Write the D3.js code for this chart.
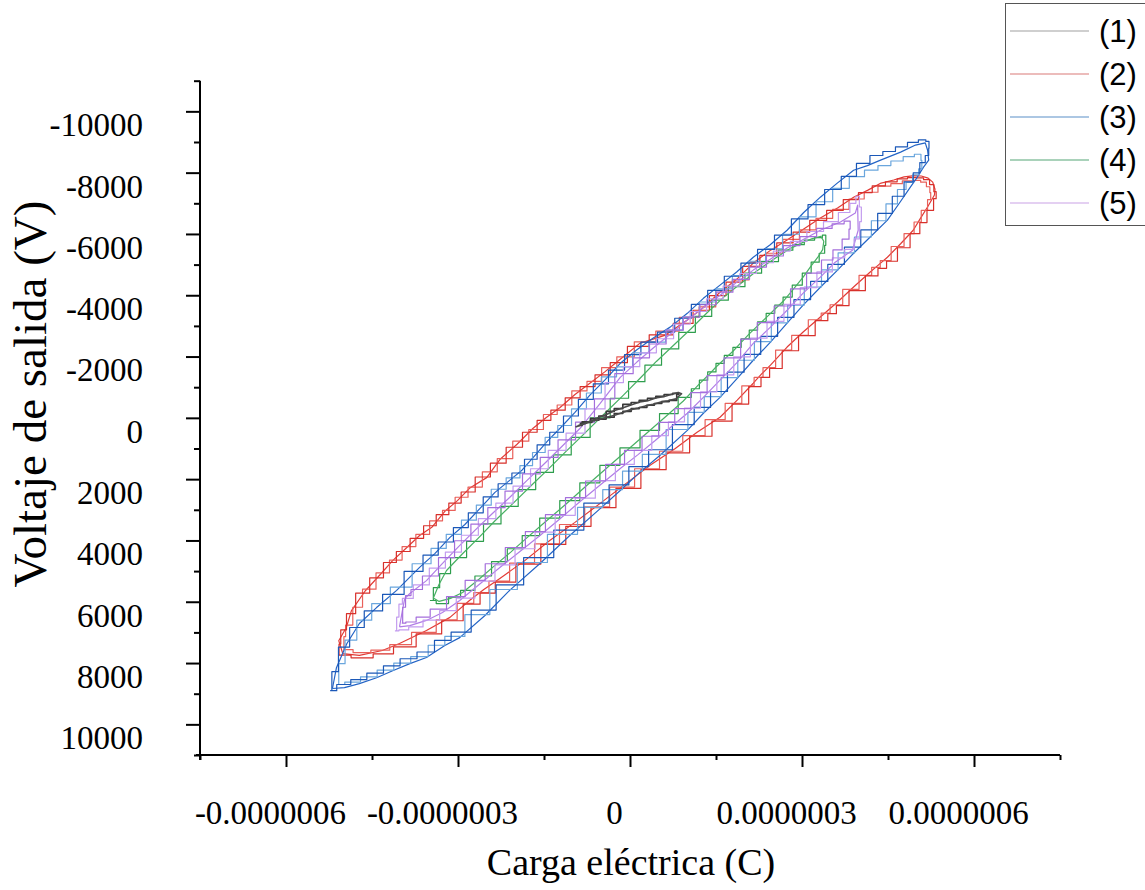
<!DOCTYPE html>
<html>
<head>
<meta charset="utf-8">
<script src="https://cdn.jsdelivr.net/npm/d3@7/dist/d3.min.js"></script>
<style>
  html, body { margin: 0; padding: 0; background: #fff; }
  svg { display: block; }
</style>
</head>
<body>
<svg id="chart" width="1145" height="890"></svg>
<script>
// Hysteresis loops: output voltage (V) versus electric charge.
// Charge values are stored in nC and converted to C when plotted.

const seriesNames = ["(1)", "(2)", "(3)", "(4)", "(5)"];
const legendColors = ["#a0a0a0", "#d97b78", "#5a90c8", "#55a676", "#c9a2e6"];

const xMajorTicks = [-6e-7, -3e-7, 0, 3e-7, 6e-7];
const xMinorTicks = [-7.5e-7, -4.5e-7, -1.5e-7, 1.5e-7, 4.5e-7, 7.5e-7];
const yMajorTicks = [-10000, -8000, -6000, -4000, -2000, 0, 2000, 4000, 6000, 8000, 10000];
const yMinorTicks = [-11000, -9000, -7000, -5000, -3000, -1000, 1000, 3000, 5000, 7000, 9000, 11000];

// (1) — small loop around the origin
const series1CycleA = [[-91,250],[-76,130],[-61,20],[-48,-60],[-35,-210],[-20,-300],[-5,-440],[9,-500],[23,-570],[38,-640],[52,-700],[67,-760],[82,-800],[88,-770],[75,-570],[62,-530],[49,-470],[36,-410],[23,-340],[9,-300],[-5,-210],[-20,-140],[-35,-20],[-48,40],[-61,80],[-72,150],[-82,180],[-91,250]];
const series1CycleB = [[-95,300],[-80,180],[-66,90],[-52,-40],[-40,-120],[-27,-240],[-12,-330],[3,-430],[17,-520],[31,-560],[45,-650],[60,-700],[74,-780],[84,-830],[90,-790],[80,-620],[66,-560],[54,-520],[40,-440],[27,-390],[14,-320],[0,-260],[-14,-170],[-28,-80],[-42,-10],[-56,70],[-68,120],[-80,200],[-95,300]];

// (2)
const series2CycleA = [[-501,7690],[-508,7270],[-495,6850],[-486,6300],[-462,5650],[-436,5120],[-414,4660],[-392,4280],[-367,3840],[-345,3560],[-323,3050],[-301,2700],[-280,2300],[-250,1950],[-227,1360],[-197,860],[-169,340],[-146,-10],[-122,-340],[-96,-760],[-70,-1130],[-44,-1500],[-17,-1910],[17,-2430],[62,-2700],[100,-3190],[128,-3600],[157,-4100],[186,-4520],[215,-5050],[246,-5480],[274,-5800],[303,-6160],[332,-6520],[362,-6850],[390,-7200],[415,-7430],[438,-7660],[460,-7760],[478,-7860],[496,-7900],[508,-7890],[520,-7820],[528,-7690],[532,-7460],[531,-7270],[519,-6880],[506,-6490],[494,-6120],[472,-5680],[449,-5240],[434,-5000],[419,-4760],[390,-4270],[362,-3780],[346,-3520],[332,-3290],[302,-2800],[274,-2310],[245,-1720],[230,-1440],[215,-1130],[187,-580],[157,-20],[117,470],[79,1000],[35,1550],[-9,2170],[-52,2790],[-96,3410],[-140,4000],[-183,4650],[-227,5240],[-255,5600],[-280,5960],[-314,6510],[-355,6940],[-402,7360],[-432,7590],[-472,7750],[-501,7690]];
const series2CycleB = [[-496,7560],[-502,7140],[-490,6760],[-477,6180],[-456,5590],[-430,5060],[-409,4640],[-386,4200],[-361,3800],[-338,3360],[-316,3020],[-294,2590],[-271,2260],[-244,1760],[-219,1330],[-190,760],[-163,380],[-139,-110],[-115,-420],[-88,-880],[-62,-1190],[-37,-1640],[-9,-1990],[24,-2480],[66,-2830],[106,-3280],[135,-3620],[164,-4150],[193,-4500],[222,-5080],[252,-5370],[281,-5820],[310,-6130],[339,-6510],[368,-6800],[396,-7140],[421,-7360],[444,-7560],[466,-7640],[484,-7730],[501,-7750],[513,-7690],[521,-7540],[525,-7350],[524,-7120],[514,-6770],[502,-6390],[489,-6010],[467,-5590],[444,-5130],[429,-4910],[414,-4650],[385,-4190],[357,-3690],[341,-3420],[326,-3200],[296,-2690],[268,-2210],[240,-1640],[224,-1320],[209,-1040],[181,-470],[151,60],[111,580],[73,1090],[30,1660],[-14,2260],[-57,2900],[-101,3480],[-145,4110],[-188,4740],[-232,5330],[-260,5700],[-285,6050],[-318,6590],[-358,7000],[-404,7400],[-434,7580],[-470,7660],[-496,7560]];
const series2CycleC = [[-505,7740],[-510,7380],[-499,6920],[-490,6390],[-467,5720],[-441,5220],[-419,4720],[-396,4360],[-371,3930],[-349,3520],[-327,3160],[-305,2780],[-284,2420],[-256,1930],[-231,1480],[-201,960],[-174,470],[-150,80],[-126,-250],[-100,-650],[-74,-1020],[-48,-1400],[-21,-1800],[12,-2330],[55,-2710],[96,-3080],[124,-3510],[153,-3990],[182,-4430],[211,-4940],[242,-5300],[270,-5710],[299,-6060],[328,-6440],[358,-6770],[386,-7120],[411,-7350],[434,-7570],[457,-7700],[475,-7800],[493,-7840],[506,-7830],[518,-7770],[527,-7610],[533,-7380],[535,-7150],[524,-6770],[512,-6370],[499,-6010],[478,-5550],[455,-5110],[440,-4880],[425,-4630],[396,-4150],[368,-3660],[352,-3400],[338,-3170],[308,-2680],[280,-2190],[251,-1610],[236,-1320],[221,-1020],[193,-450],[163,110],[123,600],[85,1140],[41,1690],[-3,2300],[-46,2930],[-90,3540],[-134,4130],[-177,4770],[-221,5360],[-249,5720],[-274,6080],[-308,6620],[-349,7050],[-397,7470],[-428,7700],[-468,7830],[-505,7740]];

// (3)
const series3CycleA = [[-519,8830],[-512,8150],[-494,7370],[-472,6710],[-442,6190],[-407,5630],[-367,4880],[-340,4420],[-314,3900],[-288,3480],[-262,2960],[-236,2440],[-210,2040],[-188,1700],[-166,1230],[-144,760],[-122,340],[-96,-180],[-70,-740],[-44,-1230],[-17,-1780],[12,-2220],[40,-2600],[70,-2960],[100,-3410],[128,-3900],[157,-4330],[186,-4760],[215,-5240],[244,-5640],[274,-6120],[303,-6700],[332,-7200],[361,-7650],[390,-8080],[414,-8230],[437,-8410],[472,-8670],[498,-8900],[515,-8970],[519,-8740],[521,-8410],[512,-8180],[500,-7820],[489,-7530],[470,-7010],[449,-6450],[419,-5900],[390,-5370],[362,-4820],[332,-4260],[302,-3680],[274,-3090],[245,-2470],[215,-1880],[187,-1290],[157,-670],[128,-150],[100,410],[52,1230],[17,1780],[-17,2370],[-52,2960],[-105,3840],[-157,4750],[-210,5630],[-253,6450],[-297,7170],[-323,7430],[-355,7820],[-384,8020],[-414,8250],[-442,8480],[-472,8670],[-498,8800],[-519,8830]];
const series3CycleB = [[-510,8700],[-506,8020],[-488,7250],[-465,6600],[-436,6060],[-400,5520],[-360,4760],[-334,4260],[-307,3800],[-281,3340],[-255,2850],[-229,2330],[-203,1960],[-181,1560],[-159,1130],[-137,640],[-115,250],[-89,-290],[-63,-810],[-37,-1340],[-10,-1660],[19,-2120],[47,-2470],[77,-2860],[107,-3290],[135,-3780],[164,-4210],[193,-4640],[222,-5110],[251,-5510],[281,-5990],[310,-6560],[339,-7050],[368,-7490],[397,-7870],[421,-8080],[444,-8230],[466,-8380],[487,-8520],[505,-8600],[510,-8400],[508,-8120],[499,-7930],[487,-7680],[476,-7450],[457,-6980],[436,-6430],[406,-5900],[377,-5380],[349,-4830],[319,-4270],[289,-3680],[261,-3100],[232,-2490],[202,-1880],[174,-1310],[144,-690],[115,-180],[87,380],[39,1190],[4,1740],[-30,2340],[-65,2920],[-118,3800],[-170,4720],[-223,5600],[-266,6420],[-310,7130],[-336,7420],[-368,7790],[-397,8000],[-427,8230],[-455,8450],[-485,8620],[-510,8700]];
const series3CycleC = [[-523,8900],[-517,8280],[-500,7480],[-478,6840],[-449,6300],[-414,5760],[-374,5010],[-348,4480],[-321,4050],[-295,3580],[-269,3100],[-243,2580],[-217,2150],[-195,1800],[-173,1350],[-151,880],[-129,470],[-103,-60],[-77,-600],[-51,-1110],[-24,-1560],[5,-2060],[33,-2470],[63,-2800],[93,-3250],[121,-3700],[150,-4160],[179,-4620],[208,-5050],[237,-5500],[267,-5960],[296,-6490],[325,-6960],[354,-7450],[383,-7880],[407,-8300],[430,-8560],[452,-8690],[474,-8840],[494,-8990],[512,-9070],[520,-9020],[523,-8800],[519,-8560],[511,-8330],[500,-7990],[488,-7700],[468,-7230],[447,-6670],[417,-6130],[388,-5570],[360,-5010],[330,-4450],[300,-3860],[272,-3280],[243,-2660],[213,-2070],[185,-1490],[155,-860],[126,-340],[98,220],[50,1040],[15,1590],[-19,2190],[-54,2780],[-107,3660],[-159,4560],[-212,5450],[-255,6270],[-299,6990],[-325,7260],[-357,7640],[-386,7860],[-416,8090],[-444,8330],[-474,8540],[-500,8700],[-523,8900]];

// (4)
const series4CycleA = [[-349,5960],[-337,5540],[-327,5080],[-299,4560],[-271,4030],[-240,3460],[-210,2890],[-180,2340],[-149,1780],[-118,1210],[-87,640],[-52,0],[-17,-640],[12,-1180],[40,-1720],[70,-2250],[100,-2790],[128,-3310],[157,-3840],[186,-4280],[215,-4720],[244,-5100],[274,-5470],[294,-5650],[314,-5800],[330,-5880],[341,-5960],[342,-5630],[337,-5370],[323,-5080],[309,-4720],[292,-4330],[274,-3940],[260,-3680],[245,-3410],[230,-3130],[215,-2860],[201,-2580],[187,-2300],[172,-2040],[157,-1780],[143,-1500],[128,-1230],[114,-950],[100,-670],[68,-140],[35,410],[0,980],[-35,1550],[-70,2120],[-105,2700],[-140,3270],[-175,3840],[-201,4270],[-227,4690],[-256,5160],[-285,5630],[-306,5850],[-327,6060],[-349,5960]];
const series4CycleB = [[-343,5880],[-333,5430],[-320,4980],[-293,4450],[-265,3930],[-235,3350],[-204,2790],[-174,2240],[-143,1680],[-112,1100],[-81,540],[-46,-110],[-11,-750],[18,-1300],[46,-1840],[76,-2370],[106,-2900],[134,-3420],[163,-3930],[192,-4370],[221,-4790],[250,-5170],[279,-5520],[299,-5700],[318,-5850],[333,-5920],[338,-5760],[336,-5490],[328,-5250],[316,-4960],[302,-4590],[285,-4200],[268,-3820],[253,-3550],[238,-3280],[223,-3010],[208,-2740],[194,-2460],[180,-2180],[165,-1920],[150,-1660],[136,-1380],[121,-1110],[107,-830],[93,-550],[61,-20],[28,520],[-7,1090],[-42,1660],[-77,2230],[-112,2820],[-147,3380],[-182,3950],[-208,4380],[-234,4790],[-263,5260],[-292,5700],[-313,5890],[-333,5990],[-343,5880]];

// (5)
const series5CycleA = [[-402,6820],[-397,6290],[-393,5900],[-384,5730],[-355,5310],[-327,4750],[-299,4200],[-271,3680],[-240,3120],[-210,2600],[-180,2050],[-149,1490],[-118,920],[-87,340],[-52,-470],[-17,-1320],[12,-1820],[40,-2270],[70,-2730],[100,-3190],[128,-3600],[157,-4000],[186,-4420],[215,-4820],[244,-5170],[274,-5540],[303,-5830],[332,-6120],[367,-6390],[393,-6680],[397,-6940],[398,-6120],[388,-5470],[358,-5080],[332,-4590],[302,-4070],[274,-3510],[245,-2960],[215,-2430],[187,-1810],[157,-1230],[128,-670],[100,-150],[72,290],[44,740],[14,1200],[-17,1650],[-52,2190],[-87,2730],[-122,3290],[-157,3840],[-192,4360],[-227,4880],[-262,5420],[-297,5960],[-327,6350],[-355,6610],[-384,6780],[-402,6820]];
const series5CycleB = [[-410,6950],[-404,6500],[-402,6080],[-392,5890],[-364,5450],[-336,4900],[-308,4380],[-280,3830],[-249,3290],[-219,2780],[-189,2230],[-158,1660],[-127,1060],[-96,500],[-61,-290],[-26,-1150],[3,-1670],[31,-2120],[61,-2580],[91,-3060],[119,-3470],[148,-3880],[177,-4300],[206,-4710],[235,-5060],[265,-5440],[294,-5760],[323,-6080],[352,-6400],[375,-6700],[392,-7000],[396,-7230],[404,-6880],[403,-6400],[398,-5840],[384,-5500],[365,-5220],[341,-4760],[311,-4250],[283,-3700],[254,-3150],[224,-2600],[196,-1990],[166,-1400],[137,-850],[109,-320],[81,130],[53,580],[23,1060],[-8,1520],[-43,2050],[-78,2620],[-113,3180],[-148,3730],[-183,4270],[-218,4800],[-253,5330],[-288,5880],[-318,6290],[-346,6600],[-376,6820],[-396,6920],[-410,6950]];
const series5CycleC = [[-398,6700],[-395,6180],[-388,5800],[-376,5600],[-348,5160],[-320,4560],[-292,4010],[-263,3470],[-233,2930],[-203,2390],[-172,1830],[-141,1290],[-110,720],[-80,140],[-44,-620],[-9,-1440],[20,-1960],[48,-2410],[78,-2860],[108,-3290],[136,-3690],[165,-4100],[194,-4520],[223,-4920],[253,-5280],[282,-5620],[311,-5910],[340,-6180],[365,-6330],[382,-6420],[386,-6160],[378,-5830],[362,-5480],[346,-5150],[322,-4720],[294,-4210],[266,-3650],[237,-3110],[207,-2570],[179,-1960],[149,-1380],[120,-820],[92,-300],[64,150],[36,600],[6,1060],[-25,1520],[-60,2060],[-95,2600],[-130,3160],[-165,3710],[-200,4230],[-235,4760],[-270,5300],[-305,5830],[-335,6240],[-362,6500],[-384,6660],[-398,6700]];

// Drawing order (back to front); the recorded traces are sampled, so some are drawn as steps
const layers = [
  { data: series2CycleA, color: "#e23b36", step: false, width: 1.2 },
  { data: series2CycleB, color: "#e9605a", step: true,  width: 1.2 },
  { data: series2CycleC, color: "#d8302b", step: true,  width: 1.2 },
  { data: series3CycleA, color: "#2364c6", step: false, width: 1.2 },
  { data: series3CycleB, color: "#6aa6dd", step: true,  width: 1.2 },
  { data: series3CycleC, color: "#1b58b8", step: true,  width: 1.2 },
  { data: series4CycleA, color: "#2e9e4d", step: true,  width: 1.2 },
  { data: series4CycleB, color: "#48b063", step: false, width: 1.2 },
  { data: series5CycleA, color: "#b07ce6", step: false, width: 1.2 },
  { data: series5CycleB, color: "#c39cef", step: true,  width: 1.2 },
  { data: series5CycleC, color: "#a56fdc", step: true,  width: 1.2 },
  { data: series1CycleA, color: "#383838", step: true,  width: 1.6 },
  { data: series1CycleB, color: "#4a4a4a", step: false, width: 1.6 }
];

const svg = d3.select("#chart");

const x = d3.scaleLinear().domain([-7.5e-7, 7.5e-7]).range([200, 1060]);
const y = d3.scaleLinear().domain([-11000, 11000]).range([80.7, 755]);

const lineLinear = d3.line().x(d => x(d[0] * 1e-9)).y(d => y(d[1]));
const lineStep = d3.line().x(d => x(d[0] * 1e-9)).y(d => y(d[1])).curve(d3.curveStep);

// Loops
const plot = svg.append("g").attr("fill", "none").attr("stroke-linejoin", "round");
layers.forEach(l => {
  plot.append("path").attr("d", (l.step ? lineStep : lineLinear)(l.data))
    .attr("stroke", l.color).attr("stroke-width", l.width);
});

// Axes
const axisY = 755, axisX = 200;

const xMinor = svg.append("g").attr("transform", `translate(0,${axisY})`)
  .call(d3.axisBottom(x).tickValues(xMinorTicks).tickSize(5).tickFormat(""));
const xMajor = svg.append("g").attr("transform", `translate(0,${axisY})`)
  .call(d3.axisBottom(x).tickValues(xMajorTicks).tickSize(12).tickPadding(34)
    .tickFormat(d => d === 0 ? "0" : d.toFixed(7)));

const yMinor = svg.append("g").attr("transform", `translate(${axisX},0)`)
  .call(d3.axisLeft(y).tickValues(yMinorTicks).tickSize(6).tickFormat(""));
const yMajor = svg.append("g").attr("transform", `translate(${axisX},0)`)
  .call(d3.axisLeft(y).tickValues(yMajorTicks).tickSize(14).tickPadding(43).tickFormat(d => String(d)));

[xMinor, xMajor, yMinor, yMajor].forEach(g => {
  g.select(".domain").remove();
  g.selectAll(".tick line").attr("stroke", "#000").attr("stroke-width", 2);
});

xMajor.selectAll(".tick text")
  .attr("font-family", "'Liberation Serif', 'Times New Roman', serif")
  .attr("font-size", 33).attr("fill", "#000").attr("dx", -16);
yMajor.selectAll(".tick text")
  .attr("font-family", "'Liberation Serif', 'Times New Roman', serif")
  .attr("font-size", 33).attr("fill", "#000").attr("dy", "0.74em");

// Axis lines
svg.append("line").attr("x1", axisX).attr("x2", axisX).attr("y1", y(-11000)).attr("y2", axisY + 5)
  .attr("stroke", "#000").attr("stroke-width", 2);
svg.append("line").attr("x1", axisX - 4).attr("x2", x(7.5e-7)).attr("y1", axisY).attr("y2", axisY)
  .attr("stroke", "#000").attr("stroke-width", 2);

// Axis titles
svg.append("text")
  .attr("x", 631).attr("y", 875)
  .attr("text-anchor", "middle")
  .attr("font-family", "'Liberation Serif', 'Times New Roman', serif")
  .attr("font-size", 38)
  .text("Carga eléctrica (C)");

svg.append("text")
  .attr("transform", "translate(46,394) rotate(-90)")
  .attr("text-anchor", "middle")
  .attr("font-family", "'Liberation Serif', 'Times New Roman', serif")
  .attr("font-size", 47)
  .text("Voltaje de salida (V)");

// Legend
const legend = svg.append("g");
legend.append("rect").attr("x", 1005.5).attr("y", 3.5).attr("width", 150).attr("height", 222)
  .attr("fill", "#fff").attr("stroke", "#555").attr("stroke-width", 1);
seriesNames.forEach((name, i) => {
  const cy = 31 + i * 43;
  legend.append("line").attr("x1", 1010).attr("x2", 1089).attr("y1", cy).attr("y2", cy)
    .attr("stroke", legendColors[i]).attr("stroke-width", 1.2);
  legend.append("text").attr("x", 1099).attr("y", cy + 11)
    .attr("font-family", "'Liberation Sans', Arial, sans-serif")
    .attr("font-size", 31).attr("fill", "#000")
    .text(name);
});
</script>
</body>
</html>
